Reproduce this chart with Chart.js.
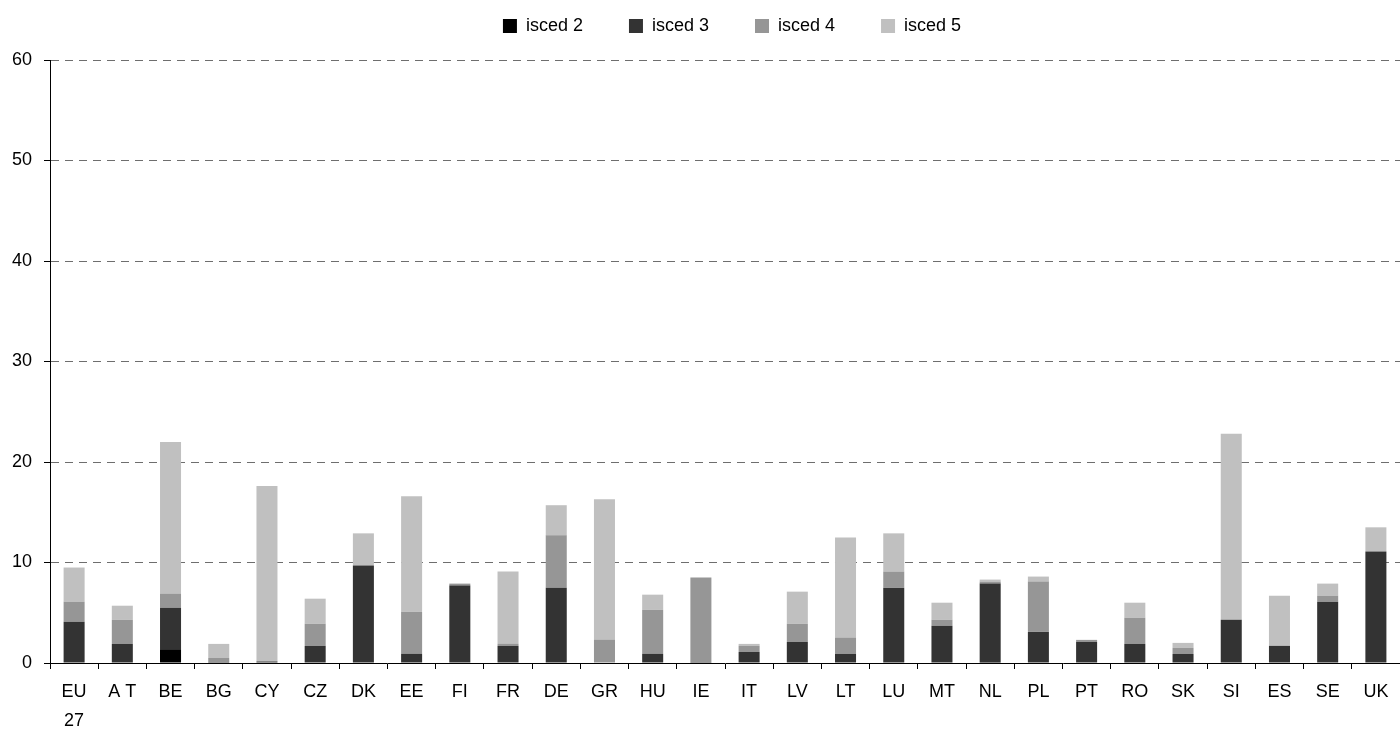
<!DOCTYPE html>
<html>
<head>
<meta charset="utf-8">
<script src="https://cdn.jsdelivr.net/npm/chart.js@4.4.1/dist/chart.umd.min.js"></script>
<style>
html,body{margin:0;padding:0;background:#fff;}
#wrap{width:1400px;height:733px;position:relative;}
</style>
</head>
<body>
<div id="wrap"><canvas id="c" width="1400" height="733"></canvas></div>
<script>
const categories = [["EU","27"],"A T","BE","BG","CY","CZ","DK","EE","FI","FR","DE","GR","HU","IE","IT","LV","LT","LU","MT","NL","PL","PT","RO","SK","SI","ES","SE","UK"];
const isced2 = [0,0,1.3,0,0,0,0,0,0,0,0,0,0,0,0,0,0,0,0,0.1,0,0,0,0,0,0,0,0];
const isced3 = [4.1,1.9,4.2,0.1,0.15,1.7,9.7,0.9,7.7,1.7,7.5,0,0.9,0.1,1.1,2.1,0.9,7.5,3.7,7.8,3.1,2.1,1.9,0.9,4.3,1.7,6.1,11.1];
const isced4 = [2.0,2.4,1.4,0.4,0,2.2,0,4.2,0.2,0.2,5.2,2.3,4.4,8.4,0.6,1.8,1.6,1.6,0.6,0.2,5.0,0.2,2.6,0.6,0,0,0.6,0];
const isced5 = [3.4,1.4,15.1,1.4,17.45,2.5,3.2,11.5,0,7.2,3.0,14.0,1.5,0,0.2,3.2,10.0,3.8,1.7,0.2,0.5,0,1.5,0.5,18.5,5.0,1.2,2.4];
const seriesNames = ["isced 2","isced 3","isced 4","isced 5"];
const yTicks = [0,10,20,30,40,50,60];

const colors = ["#000000","#333333","#969696","#c0c0c0"];
const fam = "'Liberation Sans', Arial, sans-serif";
Chart.defaults.font = {family:fam, size:18};
Chart.defaults.color = "#000";

const legendPlace = {
  id:'legendPlace',
  beforeInit(chart){
    const lg = chart.legend;
    if (lg) {
      const fit = lg.fit.bind(lg);
      lg.fit = function(){ fit(); this.height = 60; };
    }
  },
  afterLayout(chart){
    const lg = chart.legend;
    if (lg) { lg.left += 32; lg.right += 32; lg.top = -29; }
  }
};

new Chart(document.getElementById('c'), {
  type:'bar',
  data:{
    labels:categories,
    datasets:[isced2,isced3,isced4,isced5].map((d,i)=>({
      label:seriesNames[i], data:d, backgroundColor:colors[i], borderWidth:0,
      barPercentage:0.436, categoryPercentage:1
    }))
  },
  plugins:[legendPlace],
  options:{
    responsive:false, animation:false,
    layout:{padding:{top:0,left:0,right:0,bottom:0}},
    plugins:{
      legend:{position:'top', labels:{boxWidth:14, boxHeight:14, padding:46, font:{family:fam,size:18}, color:'#000'}},
      tooltip:{enabled:false}
    },
    scales:{
      x:{
        stacked:true,
        grid:{offset:true, drawOnChartArea:false, drawTicks:true, tickLength:6, color:'#000'},
        border:{color:'#000', width:1},
        ticks:{font:{family:fam,size:18,lineHeight:1.6}, color:'#000', padding:9, maxRotation:0, autoSkip:false},
        afterFit:(s)=>{s.height=70;}
      },
      y:{
        stacked:true, min:0, max:60,
        afterBuildTicks:(s)=>{s.ticks=yTicks.map(v=>({value:v}));},
        grid:{color:(ctx)=>ctx.tick && ctx.tick.value===0 ? 'rgba(0,0,0,0)' : '#6e6e6e', lineWidth:1, tickLength:6, tickColor:'#000', tickBorderDash:[]},
        border:{color:'#000', width:1, dash:[8,6]},
        ticks:{font:{family:fam,size:18}, color:'#000', padding:12},
        afterFit:(s)=>{s.width=50;}
      }
    }
  }
});
</script>
</body>
</html>
